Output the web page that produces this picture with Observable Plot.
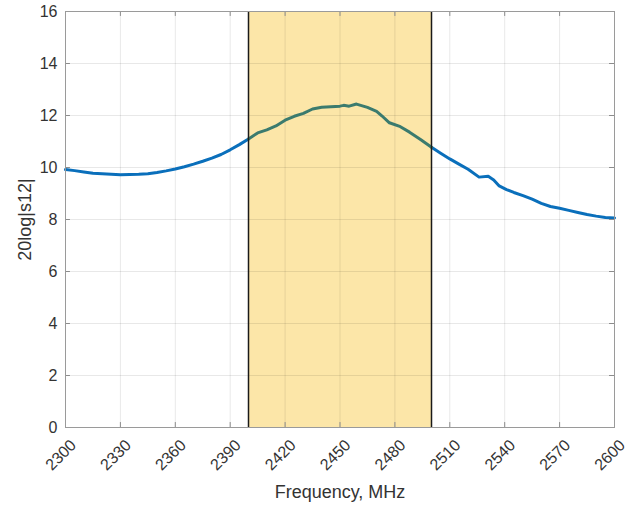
<!DOCTYPE html>
<html>
<head>
<meta charset="utf-8">
<script src="https://cdn.jsdelivr.net/npm/d3@7"></script>
<script src="https://cdn.jsdelivr.net/npm/@observablehq/plot@0.6"></script>
<style>
  html, body { margin: 0; padding: 0; background: #fff; }
  #chart svg { display: block; }
</style>
</head>
<body>
<div id="chart"></div>
<script>
// Frequency (MHz) and measured 20log|s12| (dB)
const freq = [2300,2305,2310,2315,2320,2325,2330,2335,2340,2345,2350,2355,2360,2365,2370,2375,2380,2385,2390,2395,
  2400,2405,2410,2415,2420,2425,2430,2435,2440,2445,2450,2452,2455,2459,2465,2470,2473,2477,2483,2488,2494,
  2500,2505,2510,2515,2520,2526,2531,2534,2537,2541,2545,2550,2555,2560,2565,2570,2575,2580,2585,2590,2595,2600];
const s12 = [9.92,9.88,9.83,9.78,9.76,9.74,9.72,9.73,9.74,9.76,9.81,9.87,9.94,10.03,10.13,10.24,10.36,10.50,10.68,10.88,
  11.10,11.33,11.45,11.60,11.82,11.97,12.08,12.25,12.32,12.34,12.36,12.39,12.36,12.44,12.31,12.16,11.98,11.72,11.57,11.36,11.08,
  10.78,10.55,10.33,10.13,9.93,9.63,9.66,9.52,9.29,9.15,9.04,8.92,8.78,8.62,8.50,8.43,8.35,8.27,8.19,8.13,8.08,8.06];
const xTicks = [2300,2330,2360,2390,2420,2450,2480,2510,2540,2570,2600];
const yTicks = [0,2,4,6,8,10,12,14,16];
const band = [2400, 2500];
const xLabel = "Frequency, MHz";
const yLabel = "20log|s12|";

const rows = freq.map((f, i) => ({f, v: s12[i]}));
const segments = [
  ...rows.filter(d => d.f <= band[0]).map(d => ({...d, seg: "low"})),
  ...rows.filter(d => d.f >= band[1]).map(d => ({...d, seg: "high"}))
];
const inside = rows.filter(d => d.f >= band[0] && d.f <= band[1]);

const xMin = xTicks[0], xMax = xTicks[xTicks.length - 1];
const yMin = yTicks[0], yMax = yTicks[yTicks.length - 1];
const tickLenY = 0.19;   // inward tick length in y units (~5px)
const tickLenX = 2.7;    // inward tick length in x units (~5px)

const chart = Plot.plot({
  width: 641,
  height: 507,
  marginLeft: 65,
  marginRight: 27,
  marginTop: 11,
  marginBottom: 80,
  style: {fontFamily: "'Liberation Sans', Arial, Helvetica, sans-serif", fontSize: "16px", color: "#262626", background: "#fff"},
  x: {domain: [xMin, xMax]},
  y: {domain: [yMin, yMax]},
  marks: [
    Plot.rect([{x1: band[0], x2: band[1]}], {x1: "x1", x2: "x2", y1: yMin, y2: yMax, fill: "#fce6a8"}),
    Plot.gridX(xTicks, {stroke: "#000", strokeOpacity: 0.09}),
    Plot.gridY(yTicks, {stroke: "#000", strokeOpacity: 0.09}),
    Plot.line(segments, {x: "f", y: "v", z: "seg", stroke: "#0a6fbb", strokeWidth: 3}),
    Plot.line(inside, {x: "f", y: "v", stroke: "#3b7b6e", strokeWidth: 3}),
    Plot.ruleX(band, {stroke: "#1a1a1a", strokeWidth: 1.5}),
    Plot.ruleX(xTicks, {y1: yMin, y2: yMin + tickLenY, stroke: "#8c8c8c"}),
    Plot.ruleX(xTicks, {y1: yMax, y2: yMax - tickLenY, stroke: "#8c8c8c"}),
    Plot.ruleY(yTicks, {x1: xMin, x2: xMin + tickLenX, stroke: "#8c8c8c"}),
    Plot.ruleY(yTicks, {x1: xMax, x2: xMax - tickLenX, stroke: "#8c8c8c"}),
    Plot.frame({stroke: "#9a9a9a"}),
    Plot.axisX(xTicks, {tickSize: 0, tickRotate: -45, tickPadding: 15, dx: 8, fontSize: 16, fill: "#333",
      tickFormat: d3.format("d"), label: null}),
    Plot.axisY(yTicks, {tickSize: 0, tickPadding: 8, fontSize: 16, fill: "#333",
      tickFormat: d3.format("d"), label: null}),
    Plot.text([xLabel], {frameAnchor: "bottom", text: d => d, dy: 65, lineAnchor: "middle", fontSize: 18, fill: "#333"}),
    Plot.text([yLabel], {frameAnchor: "left", text: d => d, dx: -40, rotate: -90, textAnchor: "middle", lineAnchor: "middle", fontSize: 18, fill: "#333"})
  ]
});
document.getElementById("chart").appendChild(chart);
</script>
</body>
</html>
